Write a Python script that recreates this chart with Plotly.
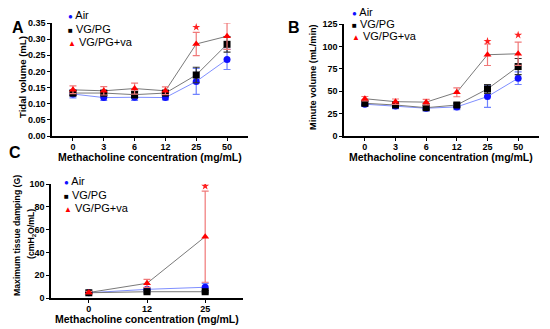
import plotly.graph_objects as go

W, H = 550, 329

# ---------------- data ----------------
conc_ab = ["0", "3", "6", "12", "25", "50"]
conc_c = ["0", "12", "25"]

# Panel A: Tidal volume (mL)
tv_air = [0.130, 0.119, 0.120, 0.119, 0.169, 0.237]
tv_air_err = [0.012, 0.009, 0.010, 0.007, 0.040, 0.031]
tv_vgpg = [0.133, 0.133, 0.128, 0.133, 0.189, 0.284]
tv_vgpg_err = [0.008, 0.008, 0.010, 0.005, 0.024, 0.024]
tv_va = [0.143, 0.140, 0.147, 0.140, 0.285, 0.309]
tv_va_err = [0.012, 0.013, 0.017, 0.012, 0.036, 0.041]
tv_star_x = ["25"]
tv_star_y = [0.337]

# Panel B: Minute volume (mL/min)
mv_air = [35.5, 33.5, 31.0, 32.5, 44.0, 64.5]
mv_air_err = [2.5, 3.0, 3.0, 3.0, 12.0, 7.0]
mv_vgpg = [36.5, 34.6, 31.6, 34.6, 52.5, 77.5]
mv_vgpg_err = [2.0, 2.0, 2.0, 2.0, 5.0, 9.0]
mv_va = [41.6, 38.3, 37.8, 48.8, 90.7, 91.8]
mv_va_err = [2.5, 3.0, 3.0, 5.0, 12.0, 13.0]
mv_star_x = ["25", "50"]
mv_star_y = [105.7, 112.7]

# Panel C: Maximum tissue damping (G)
g_air = [4.6, 7.6, 9.4]
g_air_err = [0.5, 1.5, 3.5]
g_vgpg = [4.6, 5.5, 5.5]
g_vgpg_err = [0.5, 1.0, 1.0]
g_va = [4.8, 12.9, 53.8]
g_va_err = [1.0, 3.5, 40.0]
g_star_x = ["25"]
g_star_y = [98.2]

series_names = ["Air", "VG/PG", "VG/PG+va"]
x_title = "Methacholine concentration (mg/mL)"

# ---------------- styles ----------------
FONT = "Arial, Liberation Sans, sans-serif"
marker_cols = ["#1010ff", "#000000", "#ff0000"]
err_cols = ["#6f83ff", "#333333", "#f07878"]
line_cols = ["#7f8fff", "#7a7a7a", "#7a7a7a"]
symbols = ["circle", "square", "triangle-up"]
legend_glyph = ["●", "■", "▲"]

fig = go.Figure()


def add_panel(xa, ya, cats, ys, errs, star_x, star_y):
    for i in range(3):
        fig.add_trace(go.Scatter(
            x=cats, y=ys[i], mode="lines", xaxis=xa, yaxis=ya,
            line=dict(color=line_cols[i], width=1), showlegend=False,
            hoverinfo="skip"))
    for i in range(3):
        fig.add_trace(go.Scatter(
            x=cats, y=ys[i], mode="markers", xaxis=xa, yaxis=ya,
            name=series_names[i], showlegend=False,
            marker=dict(color=marker_cols[i], symbol=symbols[i], size=7),
            error_y=dict(type="data", array=errs[i], visible=True,
                         color=err_cols[i], thickness=1.2, width=3.5)))
    fig.add_trace(go.Scatter(
        x=star_x, y=star_y, mode="markers", xaxis=xa, yaxis=ya,
        marker=dict(symbol="star", color="#ff2020", size=6),
        showlegend=False, hoverinfo="skip"))


add_panel("x", "y", conc_ab, [tv_air, tv_vgpg, tv_va],
          [tv_air_err, tv_vgpg_err, tv_va_err], tv_star_x, tv_star_y)
add_panel("x2", "y2", conc_ab, [mv_air, mv_vgpg, mv_va],
          [mv_air_err, mv_vgpg_err, mv_va_err], mv_star_x, mv_star_y)
add_panel("x3", "y3", conc_c, [g_air, g_vgpg, g_va],
          [g_air_err, g_vgpg_err, g_va_err], g_star_x, g_star_y)


def px_x(a, b):
    return [a / W, b / W]


def px_y(top, bottom):
    return [1 - bottom / H, 1 - top / H]


tickfont = dict(family=FONT, size=9, color="black", weight="bold")


def tfont(size):
    return dict(family=FONT, size=size, color="black", weight="bold")


def xaxis(domain, anchor, rng):
    return dict(domain=domain, anchor=anchor, type="category", range=rng,
                showline=True, linecolor="black", linewidth=1.5,
                ticks="outside", ticklen=3, tickwidth=1.2, tickcolor="black",
                showgrid=False, zeroline=False, tickfont=tickfont,
                ticklabelstandoff=-2,
                automargin=False, fixedrange=True)


def yaxis(domain, anchor, rng, dtick, fmt):
    return dict(domain=domain, anchor=anchor, range=rng, dtick=dtick,
                tickformat=fmt, showline=True, linecolor="black",
                linewidth=1.5, ticks="outside", ticklen=3, tickwidth=1.2,
                tickcolor="black", showgrid=False, zeroline=False,
                tickfont=tickfont, automargin=False, fixedrange=True)


fig.update_layout(
    width=W, height=H, margin=dict(l=0, r=0, t=0, b=0),
    paper_bgcolor="white", plot_bgcolor="white", showlegend=False,
    font=dict(family=FONT, color="black"),
    xaxis=xaxis(px_x(52, 248), "y", [-0.68, 5.68]),
    yaxis=yaxis(px_y(23, 136), "x", [0, 0.35], 0.05, ".2f"),
    xaxis2=xaxis(px_x(344, 539), "y2", [-0.68, 5.68]),
    yaxis2=yaxis(px_y(24, 136), "x2", [0, 125], 25, "d"),
    xaxis3=xaxis(px_x(51, 243), "y3", [-0.65, 2.65]),
    yaxis3=yaxis(px_y(184, 298), "x3", [0, 100], 20, "d"),
)

annotations = []


def ann(text, xp, yp, font, angle=0, xanchor="center"):
    annotations.append(dict(text=text, x=xp / W, y=1 - yp / H,
                            xref="paper", yref="paper", showarrow=False,
                            xanchor=xanchor, yanchor="middle",
                            textangle=angle, font=font))


# panel letters
for letter, xp, yp in [("A", 18, 27), ("B", 294, 27), ("C", 15, 153)]:
    ann("<b>" + letter + "</b>", xp, yp, dict(family=FONT, size=16, color="black"))

# axis titles
ann(x_title, 150, 157, tfont(10.5))
ann(x_title, 441, 157, tfont(10.5))
ann(x_title, 147, 319, tfont(10.5))
ann("Tidal volume (mL)", 22, 77, tfont(9.6), angle=-90)
ann("Minute volume (mL/min)", 313, 77, tfont(9.2), angle=-90)
ann("Maximum tissue damping (G)", 17, 236, tfont(8.7), angle=-90)
ann("(cmH<sub>2</sub>O/mL)", 31, 234, tfont(8.7), angle=-90)

# legends (glyph + name)
legend_pos = [(66, [15, 29, 42]), (350, [12, 24, 36]), (62, [181, 195, 208])]
legend_font = dict(family=FONT, size=11, color="black")
for lx, ys_ in legend_pos:
    for i in range(3):
        ann("<span style='color:%s;font-size:8px'>%s</span> %s"
            % (marker_cols[i], legend_glyph[i], series_names[i]),
            lx, ys_[i], legend_font, xanchor="left")

fig.update_layout(annotations=annotations)

fig.write_html("out.html", config={"displayModeBar": False},
               post_script="document.body.style.margin='0';")
